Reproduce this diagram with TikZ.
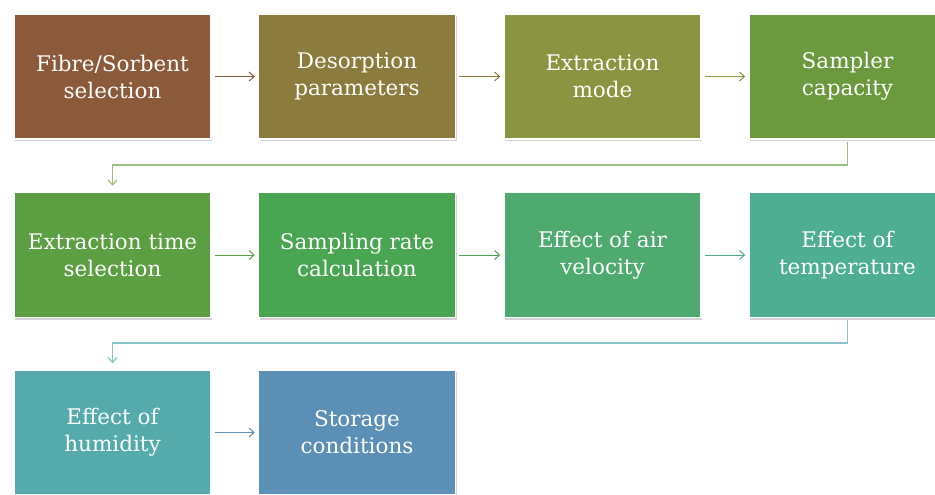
\documentclass[tikz,border=0pt]{standalone}
\usepackage{fontspec}
\setmainfont{DejaVu Serif}
\usetikzlibrary{shadows,arrows.meta}

\definecolor{cFibre}{HTML}{8B5A3B}
\definecolor{cDesorb}{HTML}{8B7B3C}
\definecolor{cMode}{HTML}{8B9440}
\definecolor{cCapac}{HTML}{6A9A3D}
\definecolor{cTime}{HTML}{5C9E42}
\definecolor{cRate}{HTML}{4AA553}
\definecolor{cVeloc}{HTML}{4EAA6F}
\definecolor{cTemp}{HTML}{4EAE91}
\definecolor{cHumid}{HTML}{55AAAC}
\definecolor{cStore}{HTML}{5B8FB5}

\tikzset{
    stepbox/.style={draw=white, line width=1.5pt, minimum width=197pt, minimum height=125pt,
        text=white, align=center, font=\fontsize{21.5}{27}\selectfont,
        drop shadow={shadow xshift=1pt, shadow yshift=-2pt, opacity=0.35}},
    flow/.style={-{Straight Barb[length=5pt, width=9pt, line width=1pt]}, line width=1pt},
    link/.style={-{Straight Barb[length=5pt, width=9pt, line width=1.2pt]}, line width=1.5pt}
}

\begin{document}
\begin{tikzpicture}[x=1pt, y=-1pt]
    \useasboundingbox (0, 0) rectangle (935, 495);
    \clip (0, 0) rectangle (935, 495);

    % first row
    \node[stepbox, fill=cFibre] (fibre) at (112.5, 76.5) {Fibre/Sorbent\\selection};
    \node[stepbox, fill=cDesorb] (desorb) at (357, 76.5) {Desorption\\parameters};
    \node[stepbox, fill=cMode] (mode) at (602.5, 76.5) {Extraction\\mode};
    \node[stepbox, fill=cCapac] (capac) at (847.5, 76.5) {Sampler\\capacity};

    % second row
    \node[stepbox, fill=cTime] (time) at (112.5, 255) {Extraction time\\selection};
    \node[stepbox, fill=cRate] (rate) at (357, 255) {Sampling rate\\calculation};
    \node[stepbox, fill=cVeloc] (veloc) at (602.5, 255) {Effect of air\\velocity};
    \node[stepbox, fill=cTemp] (temp) at (847.5, 255) {Effect of\\temperature};

    % third row
    \node[stepbox, fill=cHumid] (humid) at (112.5, 432.5) {Effect of\\humidity};
    \node[stepbox, fill=cStore] (store) at (357, 432.5) {Storage\\conditions};

    \draw[flow, cFibre] (fibre.east) ++(3, 0) -- ([xshift=-3pt]desorb.west);
    \draw[flow, cDesorb] (desorb.east) ++(3, 0) -- ([xshift=-3pt]mode.west);
    \draw[flow, cMode!80!cCapac] (mode.east) ++(3, 0) -- ([xshift=-3pt]capac.west);

    \coordinate (turnA) at (847.5, 165);
    \coordinate (turnB) at (112.5, 165);
    \draw[link, cCapac!65!white] ([yshift=-2pt]capac.south) -- (turnA) -- (turnB) -- ([yshift=6pt]time.north);

    \draw[flow, cTime] (time.east) ++(3, 0) -- ([xshift=-3pt]rate.west);
    \draw[flow, cRate] (rate.east) ++(3, 0) -- ([xshift=-3pt]veloc.west);
    \draw[flow, cVeloc!50!cTemp] (veloc.east) ++(3, 0) -- ([xshift=-3pt]temp.west);

    \coordinate (turnC) at (847.5, 343);
    \coordinate (turnD) at (112.5, 343);
    \draw[link, cHumid!70!white] ([yshift=-2pt]temp.south) -- (turnC) -- (turnD) -- ([yshift=6pt]humid.north);

    \draw[flow, cStore] (humid.east) ++(3, 0) -- ([xshift=-3pt]store.west);
\end{tikzpicture}
\end{document}
